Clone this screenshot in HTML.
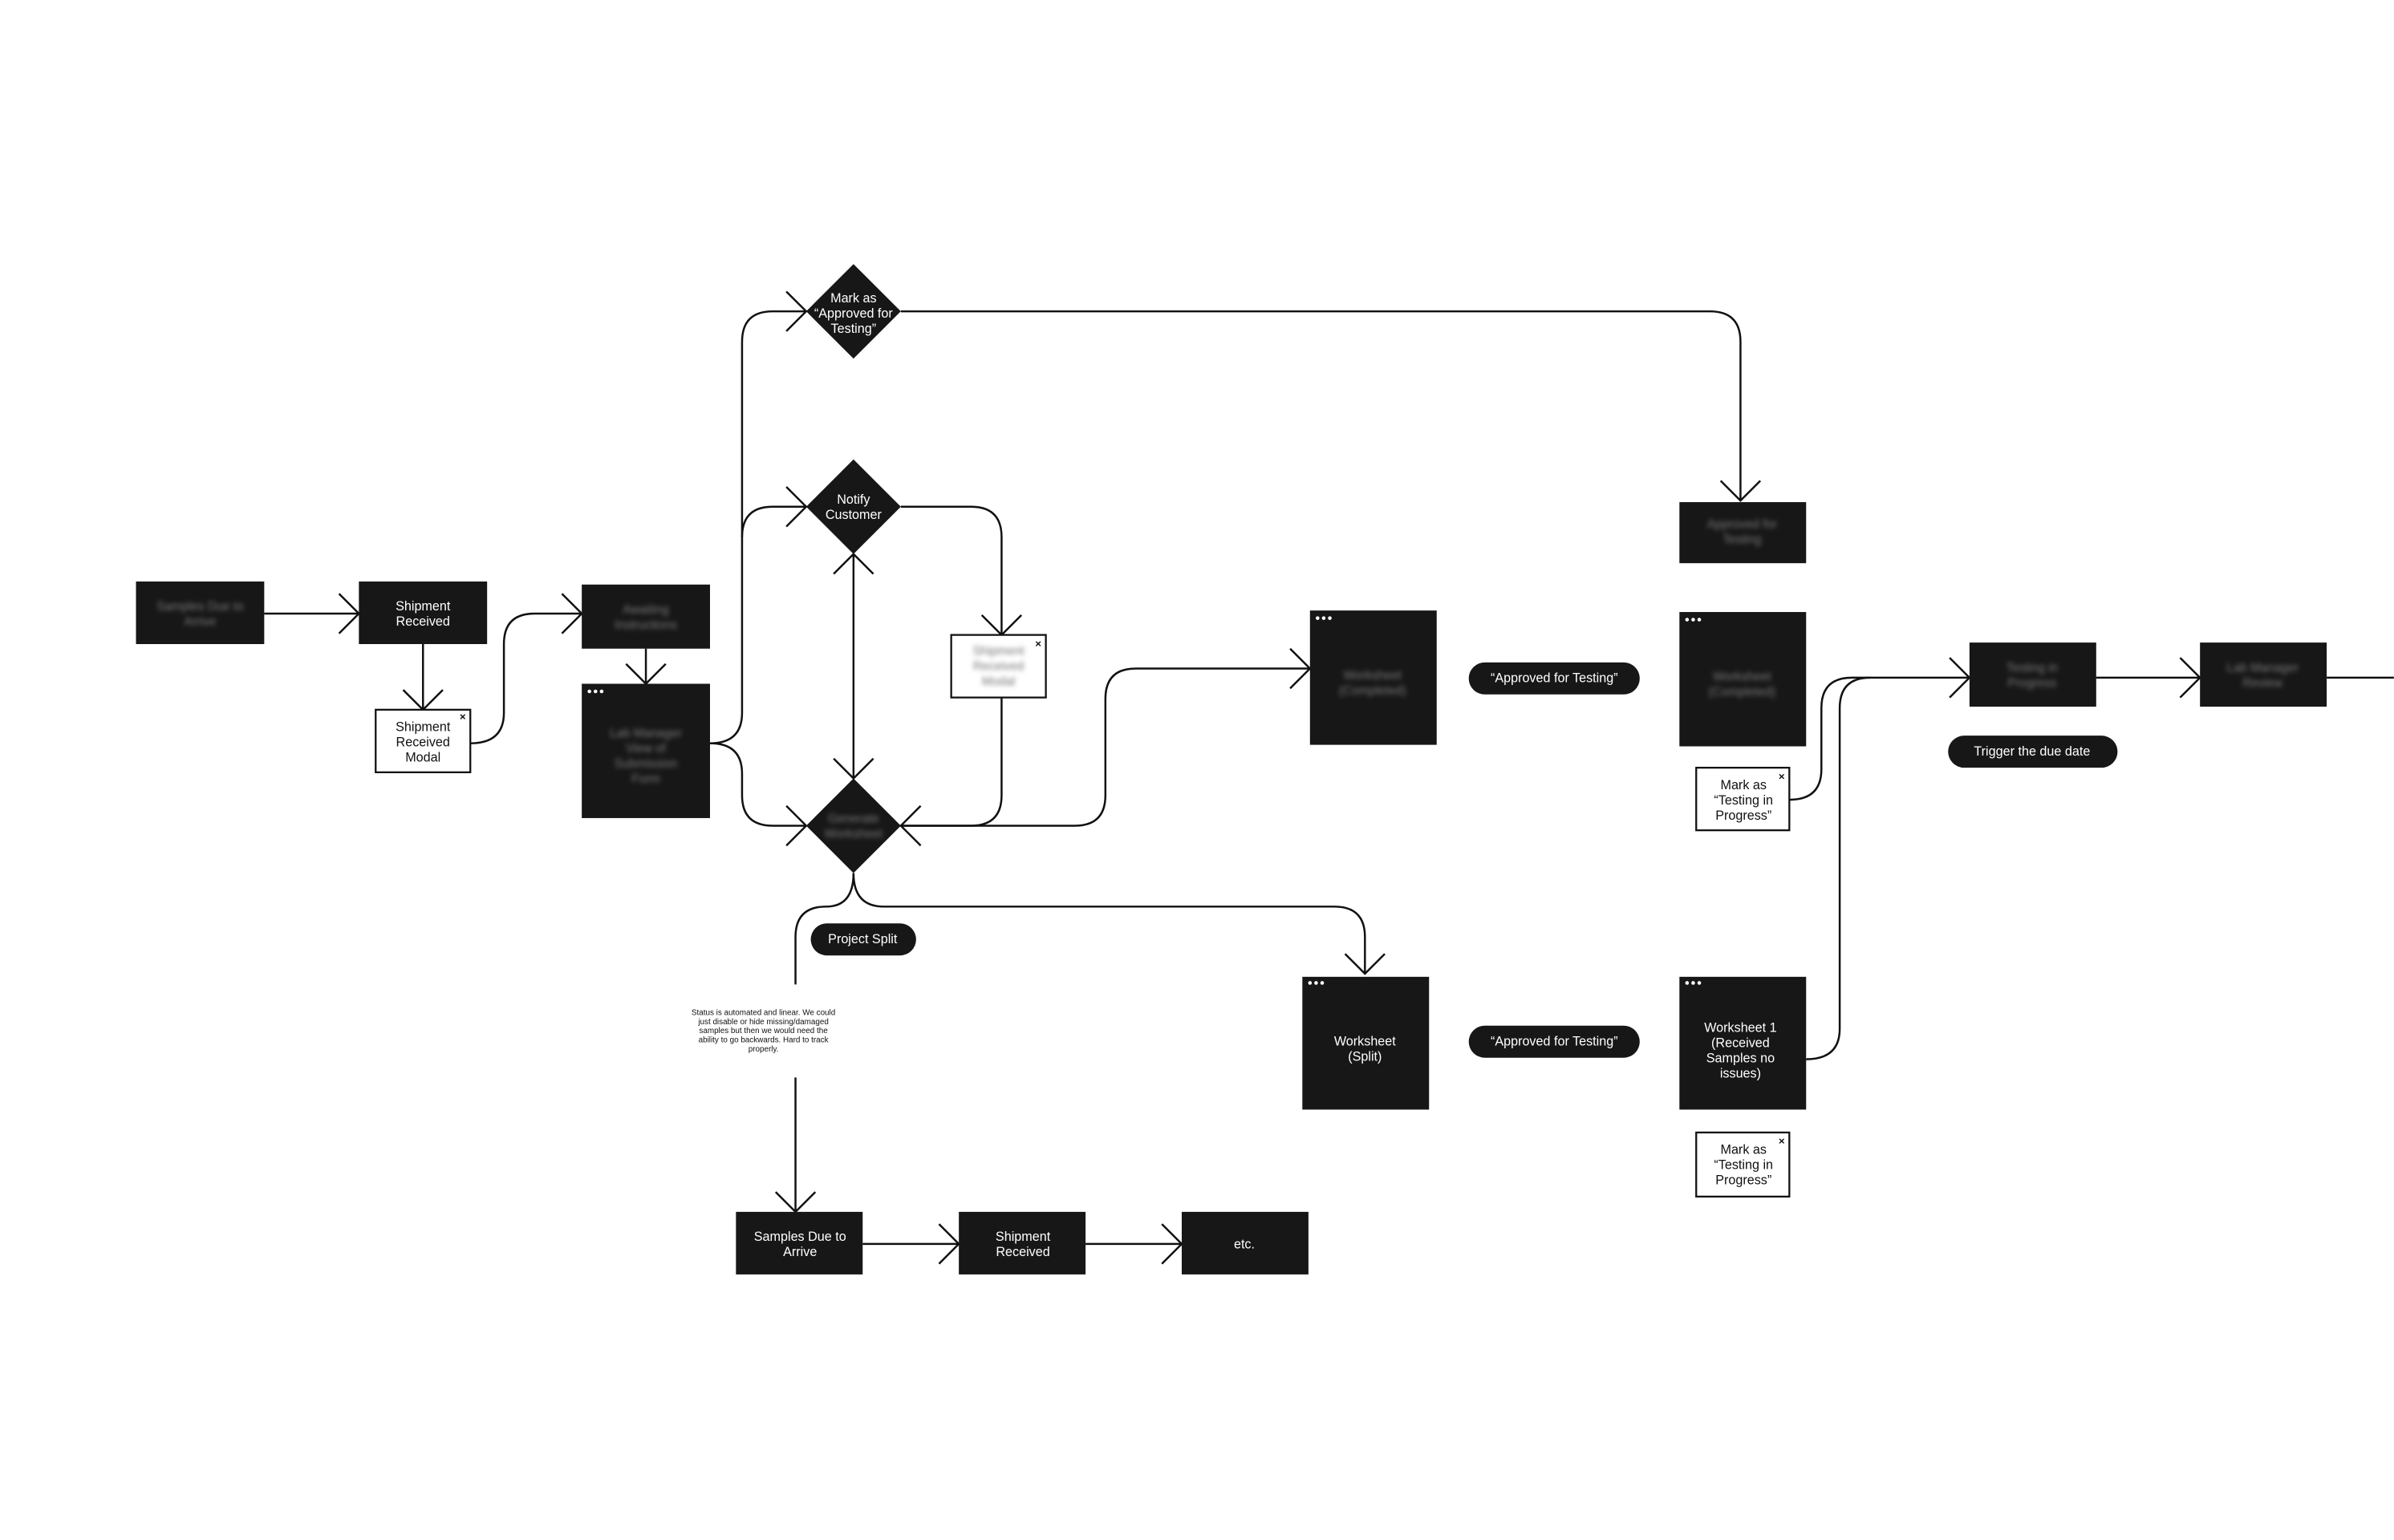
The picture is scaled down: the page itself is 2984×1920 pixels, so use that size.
<!DOCTYPE html>
<html><head><meta charset="utf-8"><style>
html,body{margin:0;padding:0;background:#fff;}
svg{display:block;}
text{font-family:"Liberation Sans",sans-serif;}
</style></head><body>
<svg width="2984" height="1920" viewBox="0 0 1568 1009" xmlns="http://www.w3.org/2000/svg">
<defs><filter id="b" x="-20%" y="-50%" width="140%" height="200%"><feGaussianBlur stdDeviation="1.6"/></filter></defs>
<rect width="1568" height="1009" fill="#fff"/>
<g fill="none" stroke="#111" stroke-width="1.3">
<path d="M173,402 L235,402"/>
<path d="M277,422 L277,465"/>
<path d="M308,487 Q330,487 330,467 L330,422 Q330,402 350,402 L381,402"/>
<path d="M423,425 L423,448"/>
<path d="M465,487 Q486,487 486,467 L486,224 Q486,204 506,204 L528,204"/>
<path d="M486,352 Q486,332 506,332 L528,332"/>
<path d="M465,487 Q486,487 486,507 L486,521 Q486,541 506,541 L528,541"/>
<path d="M590,204 L1120,204 Q1140,204 1140,224 L1140,328"/>
<path d="M590,332 L636,332 Q656,332 656,352 L656,416"/>
<path d="M656,457 L656,521 Q656,541 636,541 L590,541"/>
<path d="M590,541 L704,541 Q724,541 724,521 L724,458 Q724,438 744,438 L858,438"/>
<path d="M559,363 L559,510"/>
<path d="M559,572 Q559,594 579,594 L874,594 Q894,594 894,614 L894,638"/>
<path d="M559,572 Q559,594 541,594 Q521,594 521,614 L521,645"/>
<path d="M521,706 L521,794"/>
<path d="M565,815 L628,815"/><path d="M711,815 L774,815"/>
<path d="M1172,524 Q1193,524 1193,504 L1193,464 Q1193,444 1213,444 L1290,444"/>
<path d="M1183,694 Q1205,694 1205,674 L1205,464 Q1205,444 1225,444"/>
<path d="M1373,444 L1441,444"/><path d="M1524,444 L1568,444"/>
<!-- arrowheads right -->
<path d="M222,389 L235,402 L222,415"/>
<path d="M368,389 L381,402 L368,415"/>
<path d="M515,191 L528,204 L515,217"/>
<path d="M515,319 L528,332 L515,345"/>
<path d="M515,528 L528,541 L515,554"/>
<path d="M845,425 L858,438 L845,451"/>
<path d="M1277,431 L1290,444 L1277,457"/>
<path d="M1428,431 L1441,444 L1428,457"/>
<path d="M615,802 L628,815 L615,828"/>
<path d="M761,802 L774,815 L761,828"/>
<path d="M603,528 L590,541 L603,554"/>
<!-- down -->
<path d="M264,452 L277,465 L290,452"/>
<path d="M410,435 L423,448 L436,435"/>
<path d="M1127,315 L1140,328 L1153,315"/>
<path d="M643,403 L656,416 L669,403"/>
<path d="M546,497 L559,510 L572,497"/>
<path d="M881,625 L894,638 L907,625"/>
<path d="M508,781 L521,794 L534,781"/>
<!-- up -->
<path d="M546,376 L559,363 L572,376"/>
</g>
<g fill="#171717">
<rect x="89" y="381" width="84" height="41"/>
<rect x="235" y="381" width="84" height="41"/>
<rect x="381" y="383" width="84" height="42"/>
<rect x="381" y="448" width="84" height="88"/>
<rect x="1100" y="329" width="83" height="40"/>
<rect x="858" y="400" width="83" height="88"/>
<rect x="1100" y="401" width="83" height="88"/>
<rect x="1290" y="421" width="83" height="42"/>
<rect x="1441" y="421" width="83" height="42"/>
<rect x="853" y="640" width="83" height="87"/>
<rect x="1100" y="640" width="83" height="87"/>
<rect x="482" y="794" width="83" height="41"/>
<rect x="628" y="794" width="83" height="41"/>
<rect x="774" y="794" width="83" height="41"/>
<path d="M559,173 L590,204 L559,235 L528,204Z"/>
<path d="M559,301 L590,332 L559,363 L528,332Z"/>
<path d="M559,510 L590,541 L559,572 L528,541Z"/>
<rect x="962" y="434" width="112" height="21" rx="10.5"/>
<rect x="962" y="672" width="112" height="21" rx="10.5"/>
<rect x="1276" y="482" width="111" height="21" rx="10.5"/>
<rect x="531" y="605" width="69" height="21" rx="10.5"/>
</g>
<g fill="#fff" stroke="#111" stroke-width="1.2">
<rect x="246" y="465" width="62" height="41"/>
<rect x="623" y="416" width="62" height="41"/>
<rect x="1111" y="503" width="61" height="41"/>
<rect x="1111" y="742" width="61" height="42"/>
</g>
<g fill="#fff">
<circle cx="386" cy="453" r="1.2"/><circle cx="390" cy="453" r="1.2"/><circle cx="394" cy="453" r="1.2"/>
<circle cx="863" cy="405" r="1.2"/><circle cx="867" cy="405" r="1.2"/><circle cx="871" cy="405" r="1.2"/>
<circle cx="1105" cy="406" r="1.2"/><circle cx="1109" cy="406" r="1.2"/><circle cx="1113" cy="406" r="1.2"/>
<circle cx="858" cy="644" r="1.2"/><circle cx="862" cy="644" r="1.2"/><circle cx="866" cy="644" r="1.2"/>
<circle cx="1105" cy="644" r="1.2"/><circle cx="1109" cy="644" r="1.2"/><circle cx="1113" cy="644" r="1.2"/>
</g>
<g fill="#111" font-size="7" font-weight="bold" text-anchor="middle">
<text x="303" y="472">×</text><text x="680" y="424">×</text><text x="1167" y="511">×</text><text x="1167" y="750">×</text>
</g>
<g fill="#777" font-size="8" text-anchor="middle" filter="url(#b)">
<text x="131" y="400">Samples Due to</text><text x="131" y="410">Arrive</text>
<text x="423" y="402">Awaiting</text><text x="423" y="412">Instructions</text>
<text x="423" y="483">Lab Manager</text><text x="423" y="493">View of</text><text x="423" y="503">Submission</text><text x="423" y="513">Form</text>
<text x="654" y="429">Shipment</text><text x="654" y="439">Received</text><text x="654" y="449">Modal</text>
<text x="559" y="539">Generate</text><text x="559" y="549">Worksheet</text>
<text x="1141" y="346">Approved for</text><text x="1141" y="356">Testing</text>
<text x="899" y="445">Worksheet</text><text x="899" y="455">(Completed)</text>
<text x="1141" y="446">Worksheet</text><text x="1141" y="456">(Completed)</text>
<text x="1331" y="440">Testing in</text><text x="1331" y="450">Progress</text>
<text x="1482" y="440">Lab Manager</text><text x="1482" y="450">Review</text>
</g>
<g fill="#fff" font-size="8.5" text-anchor="middle">
<text x="277" y="400">Shipment</text><text x="277" y="410">Received</text>
<text x="559" y="198">Mark as</text><text x="559" y="208">“Approved for</text><text x="559" y="218">Testing”</text>
<text x="559" y="330">Notify</text><text x="559" y="340">Customer</text>
<text x="1018" y="447">“Approved for Testing”</text>
<text x="1018" y="685">“Approved for Testing”</text>
<text x="1331" y="495">Trigger the due date</text>
<text x="565" y="618">Project Split</text>
<text x="894" y="685">Worksheet</text><text x="894" y="695">(Split)</text>
<text x="1140" y="676">Worksheet 1</text><text x="1140" y="686">(Received</text><text x="1140" y="696">Samples no</text><text x="1140" y="706">issues)</text>
<text x="524" y="813">Samples Due to</text><text x="524" y="823">Arrive</text>
<text x="670" y="813">Shipment</text><text x="670" y="823">Received</text>
<text x="815" y="818">etc.</text>
</g>
<g fill="#111" font-size="8.5" text-anchor="middle">
<text x="277" y="479">Shipment</text><text x="277" y="489">Received</text><text x="277" y="499">Modal</text>
<text x="1142" y="517">Mark as</text><text x="1142" y="527">“Testing in</text><text x="1142" y="537">Progress”</text>
<text x="1142" y="756">Mark as</text><text x="1142" y="766">“Testing in</text><text x="1142" y="776">Progress”</text>
</g>
<g fill="#111" font-size="5.2" text-anchor="middle">
<text x="500" y="665">Status is automated and linear. We could</text>
<text x="500" y="671">just disable or hide missing/damaged</text>
<text x="500" y="677">samples but then we would need the</text>
<text x="500" y="683">ability to go backwards. Hard to track</text>
<text x="500" y="689">properly.</text>
</g>
</svg>
</body></html>
